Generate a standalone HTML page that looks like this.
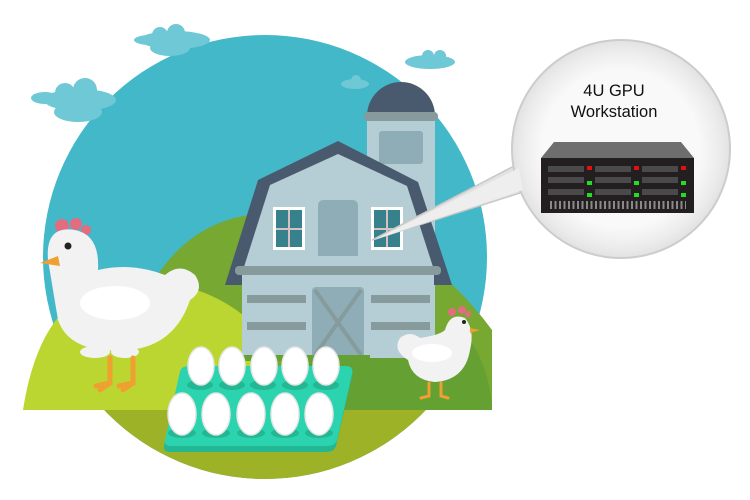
<!DOCTYPE html>
<html><head><meta charset="utf-8"><style>html,body{margin:0;padding:0;background:#fff}svg{display:block}</style></head>
<body>
<svg width="750" height="500" viewBox="0 0 750 500" xmlns="http://www.w3.org/2000/svg">
<defs>
<clipPath id="c"><circle cx="265" cy="257" r="222"/></clipPath>
<radialGradient id="bg" cx="0.5" cy="0.5" r="0.5"><stop offset="0.72" stop-color="#f9f9f9"/><stop offset="0.9" stop-color="#ececec"/><stop offset="1" stop-color="#e2e2e2"/></radialGradient>
</defs>
<circle cx="265" cy="257" r="222" fill="#42b8c9"/>
<g fill="#6fc8d5">
<ellipse cx="150" cy="40" rx="16" ry="5"/><ellipse cx="175" cy="40" rx="35" ry="9"/><circle cx="160" cy="35" r="8"/><circle cx="176" cy="33" r="9"/><ellipse cx="170" cy="48" rx="20" ry="8"/>
<ellipse cx="45" cy="98" rx="14" ry="6"/><ellipse cx="80" cy="100" rx="36" ry="11"/><circle cx="65" cy="93" r="10"/><circle cx="85" cy="90" r="12"/><ellipse cx="78" cy="112" rx="24" ry="10"/>
<ellipse cx="355" cy="84" rx="14" ry="5"/><circle cx="356" cy="80" r="5"/>
<ellipse cx="430" cy="62" rx="25" ry="7"/><circle cx="428" cy="56" r="6"/><circle cx="440" cy="56" r="6"/>
</g>
<g clip-path="url(#c)">
<rect x="0" y="410" width="750" height="90" fill="#9db226"/>
</g>
<path d="M110 410 Q140 230 250 215 Q400 205 492 330 L492 410 Z" fill="#76a832"/>
<path d="M300 410 L300 360 Q420 345 470 340 Q490 370 492 410 Z" fill="#65a033"/>
<path d="M23 410 Q40 300 110 285 Q200 270 260 330 L260 410 Z" fill="#bcd631"/>
<path d="M367 116 A34 34 0 0 1 435 116 Z" fill="#4a5a6e"/>
<rect x="367" y="118" width="68" height="240" fill="#b5cdd5"/>
<rect x="364" y="112" width="74" height="9" rx="4" fill="#879b9c"/>
<rect x="379" y="131" width="44" height="33" rx="3" fill="#8eadb6"/>
<polygon points="338,141 258,180 225,285 452,285 418,182" fill="#4a5a6e"/>
<polygon points="338,154 270,185 243,270 434,270 407,186" fill="#b5cdd5"/>
<rect x="242" y="268" width="192" height="90" fill="#b5cdd5"/>
<rect x="235" y="266" width="206" height="9" rx="4" fill="#879b9c"/>
<path d="M318 256 L318 206 Q318 200 324 200 L352 200 Q358 200 358 206 L358 256 Z" fill="#8eadb6"/>
<g>
<rect x="273" y="207" width="32" height="43" fill="#fff"/><rect x="276" y="210" width="26" height="37" fill="#37818d"/>
<rect x="288" y="210" width="2" height="37" fill="#d8c0c0"/><rect x="276" y="228" width="26" height="2" fill="#d8c0c0"/>
<rect x="371" y="207" width="32" height="43" fill="#fff"/><rect x="374" y="210" width="26" height="37" fill="#37818d"/>
<rect x="386" y="210" width="2" height="37" fill="#d8c0c0"/><rect x="374" y="228" width="26" height="2" fill="#d8c0c0"/>
</g>
<rect x="312" y="287" width="52" height="71" rx="4" fill="#8eadb6"/>
<path d="M315 290 L361 355 M361 290 L315 355" stroke="#869b9c" stroke-width="4"/>
<g fill="#879b9c">
<rect x="247" y="295" width="59" height="8"/><rect x="247" y="322" width="59" height="8"/>
<rect x="371" y="295" width="59" height="8"/><rect x="371" y="322" width="59" height="8"/>
</g>
<rect x="240" y="355" width="130" height="6" fill="#65a033"/>
<polygon points="372,240 516,165 520,193" fill="#e2e2e2" stroke="#c8c8c8" stroke-width="1.5"/>
<circle cx="621" cy="149" r="109" fill="url(#bg)" stroke="#cccccc" stroke-width="2"/>
<polygon points="374,240 519,168 523,190" fill="#eeeeee"/>
<text x="614" y="96" font-family="Liberation Sans, sans-serif" font-size="16.5" text-anchor="middle" fill="#111">4U GPU</text>
<text x="614" y="117" font-family="Liberation Sans, sans-serif" font-size="16.5" text-anchor="middle" fill="#111">Workstation</text>
<polygon points="554,142 681,142 694,158 541,158" fill="#6e6e6e"/>
<rect x="541" y="158" width="153" height="55" fill="#231f20"/>
<g fill="#4a4a4a">
<rect x="548" y="166" width="36" height="6"/><rect x="595" y="166" width="36" height="6"/><rect x="642" y="166" width="36" height="6"/>
<rect x="548" y="177" width="36" height="6"/><rect x="595" y="177" width="36" height="6"/><rect x="642" y="177" width="36" height="6"/>
<rect x="548" y="189" width="36" height="6"/><rect x="595" y="189" width="36" height="6"/><rect x="642" y="189" width="36" height="6"/>
</g>
<g fill="#e01010"><rect x="587" y="166" width="5" height="4"/><rect x="634" y="166" width="5" height="4"/><rect x="681" y="166" width="5" height="4"/></g>
<g fill="#22dd22"><rect x="587" y="181" width="5" height="4"/><rect x="634" y="181" width="5" height="4"/><rect x="681" y="181" width="5" height="4"/>
<rect x="587" y="193" width="5" height="4"/><rect x="634" y="193" width="5" height="4"/><rect x="681" y="193" width="5" height="4"/></g>
<line x1="550" y1="205" x2="686" y2="205" stroke="#8a8a8a" stroke-width="8" stroke-dasharray="2 2.5"/>
<g fill="#e26d80"><circle cx="62" cy="226" r="7"/><circle cx="76" cy="224" r="6"/><circle cx="86" cy="230" r="5"/></g>
<path d="M48 260 Q45 225 75 230 Q100 235 98 270 Q130 262 165 275 Q180 262 195 275 Q205 290 190 300 Q175 345 130 350 Q70 355 58 320 Z" fill="#f2f2f2"/>
<ellipse cx="115" cy="303" rx="35" ry="17" fill="#fff"/>
<ellipse cx="95" cy="352" rx="15" ry="6" fill="#f2f2f2"/><ellipse cx="125" cy="352" rx="14" ry="6" fill="#f2f2f2"/>
<polygon points="40,263 58,256 60,266" fill="#f0a030"/>
<circle cx="68" cy="246" r="3.5" fill="#222"/>
<g stroke="#f0a030" stroke-width="5" fill="none" stroke-linecap="round">
<path d="M110 358 L110 383 L96 386 M110 383 L100 390"/><path d="M133 358 L133 383 L119 386 M133 383 L123 390"/>
</g>
<g fill="#e26d80"><circle cx="452" cy="312" r="4"/><circle cx="462" cy="310" r="4"/><circle cx="468" cy="314" r="3"/></g>
<path d="M445 330 Q450 312 465 318 Q475 330 470 350 Q465 380 435 382 Q412 380 408 360 Q392 350 400 338 Q410 330 420 338 Q440 335 445 330 Z" fill="#f2f2f2"/>
<ellipse cx="432" cy="353" rx="20" ry="9" fill="#fff"/>
<polygon points="470,328 480,330 470,333" fill="#f0a030"/>
<circle cx="464" cy="322" r="2" fill="#222"/>
<g stroke="#f0a030" stroke-width="3" fill="none" stroke-linecap="round">
<path d="M429 383 L429 396 L421 398"/><path d="M441 383 L441 396 L448 398"/>
</g>
<path d="M180 373 Q182 368 188 368 L346 368 Q354 368 352 376 L336 446 Q334 452 326 452 L170 452 Q163 452 164 446 Z" fill="#23b893"/>
<path d="M180 371 Q182 366 188 366 L346 366 Q354 366 352 374 L337 440 Q335 446 327 446 L171 446 Q164 446 165 440 Z" fill="#2bd4ae"/>
<g fill="#23b893">
<ellipse cx="200" cy="385" rx="13" ry="5"/><ellipse cx="232" cy="385" rx="13" ry="5"/><ellipse cx="263" cy="385" rx="13" ry="5"/><ellipse cx="295" cy="385" rx="13" ry="5"/><ellipse cx="326" cy="385" rx="13" ry="5"/>
<ellipse cx="182" cy="433" rx="14" ry="5"/><ellipse cx="216" cy="433" rx="14" ry="5"/><ellipse cx="251" cy="433" rx="14" ry="5"/><ellipse cx="285" cy="433" rx="14" ry="5"/><ellipse cx="319" cy="433" rx="14" ry="5"/>
</g>
<g fill="#fff" stroke="#e6e6e6" stroke-width="1.5">
<ellipse cx="201" cy="366" rx="13" ry="19"/><ellipse cx="232" cy="366" rx="13" ry="19"/><ellipse cx="264" cy="366" rx="13" ry="19"/><ellipse cx="295" cy="366" rx="13" ry="19"/><ellipse cx="326" cy="366" rx="13" ry="19"/>
<ellipse cx="182" cy="414" rx="14" ry="21"/><ellipse cx="216" cy="414" rx="14" ry="21"/><ellipse cx="251" cy="414" rx="14" ry="21"/><ellipse cx="285" cy="414" rx="14" ry="21"/><ellipse cx="319" cy="414" rx="14" ry="21"/>
</g>
</svg>
</body></html>
